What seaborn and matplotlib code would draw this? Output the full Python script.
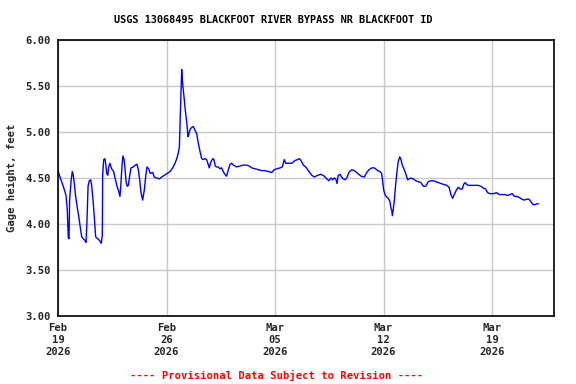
import matplotlib
matplotlib.use("Agg")
import matplotlib.pyplot as plt
import matplotlib.dates as mdates
import matplotlib.ticker as mticker
import numpy as np
import pandas as pd
import seaborn as sns

title = "USGS 13068495 BLACKFOOT RIVER BYPASS NR BLACKFOOT ID"
ylabel = "Gage height, feet"
note = "---- Provisional Data Subject to Revision ----"
start_date = "2026-02-19"
tick_dates = ["2026-02-19", "2026-02-26", "2026-03-05", "2026-03-12", "2026-03-19"]
y_ticks = [3.0, 3.5, 4.0, 4.5, 5.0, 5.5, 6.0]

# days since Feb 19 2026 00:00
days = [0.02, 0.13, 0.34, 0.52, 0.60, 0.66, 0.71, 0.75, 0.84, 0.92, 0.99, 1.05, 1.14, 1.25,
        1.35, 1.44, 1.53, 1.63, 1.74, 1.81, 1.87, 1.94, 2.02, 2.11, 2.17, 2.26, 2.34, 2.43,
        2.56, 2.69, 2.79, 2.86, 2.88, 2.95, 3.03, 3.08, 3.14, 3.21, 3.27, 3.35, 3.46, 3.59,
        3.68, 3.81, 3.89, 4.00, 4.06, 4.13, 4.19, 4.26, 4.32, 4.39, 4.47, 4.54, 4.63, 4.71,
        4.86, 4.99, 5.10, 5.18, 5.27, 5.35, 5.46, 5.57, 5.66, 5.74, 5.85, 5.95, 6.11, 6.21,
        6.37, 6.54, 6.69, 6.86, 7.05, 7.23, 7.40, 7.55, 7.66, 7.76, 7.83, 7.89, 7.94, 7.98,
        8.02, 8.08, 8.15, 8.21, 8.30, 8.39, 8.43, 8.52, 8.63, 8.73, 8.84, 8.95, 9.05, 9.16,
        9.27, 9.37, 9.50, 9.59, 9.70, 9.76, 9.85, 9.98, 10.06, 10.15, 10.24, 10.34, 10.45,
        10.56, 10.66, 10.77, 10.88, 10.99, 11.10, 11.21, 11.31, 11.53, 11.74, 11.95, 12.17,
        12.34, 12.50, 12.71, 12.92, 13.14, 13.35, 13.57, 13.79, 13.95, 14.11, 14.32, 14.47,
        14.60, 14.69, 14.86, 15.08, 15.29, 15.46, 15.57, 15.68, 15.83, 15.98, 16.15, 16.37,
        16.54, 16.75, 16.97, 17.18, 17.34, 17.48, 17.61, 17.72, 17.83, 17.92, 18.00, 18.08,
        18.19, 18.30, 18.41, 18.52, 18.63, 18.77, 18.95, 19.12, 19.34, 19.55, 19.76, 19.92,
        20.06, 20.24, 20.41, 20.63, 20.77, 20.88, 20.95, 21.01, 21.10, 21.21, 21.31, 21.42,
        21.48, 21.53, 21.57, 21.63, 21.70, 21.79, 21.87, 21.95, 22.05, 22.13, 22.21, 22.34,
        22.47, 22.56, 22.65, 22.77, 22.92, 23.08, 23.25, 23.42, 23.57, 23.72, 23.89, 24.06,
        24.21, 24.37, 24.54, 24.71, 24.88, 25.08, 25.23, 25.35, 25.46, 25.57, 25.70, 25.83,
        25.95, 26.08, 26.17, 26.26, 26.37, 26.47, 26.69, 26.90, 27.12, 27.29, 27.44, 27.59,
        27.72, 27.87, 28.08, 28.30, 28.45, 28.63, 28.84, 29.01, 29.16, 29.31, 29.44, 29.59,
        29.74, 29.92, 30.08, 30.24, 30.39, 30.52, 30.65, 30.77, 30.90, 30.99]

gage_ft = [4.57, 4.51, 4.41, 4.31, 4.15, 3.86, 3.84, 4.26, 4.46, 4.57, 4.53, 4.44, 4.30, 4.17,
           4.07, 3.96, 3.86, 3.84, 3.82, 3.80, 4.04, 4.41, 4.47, 4.48, 4.42, 4.26, 4.08, 3.86,
           3.84, 3.82, 3.79, 3.88, 4.53, 4.70, 4.71, 4.65, 4.55, 4.53, 4.62, 4.66, 4.60, 4.57,
           4.50, 4.41, 4.37, 4.30, 4.44, 4.64, 4.74, 4.70, 4.61, 4.46, 4.41, 4.42, 4.53, 4.61,
           4.62, 4.64, 4.65, 4.59, 4.48, 4.35, 4.26, 4.37, 4.52, 4.62, 4.60, 4.55, 4.56, 4.51,
           4.50, 4.49, 4.51, 4.53, 4.55, 4.57, 4.61, 4.66, 4.71, 4.77, 4.84, 5.17, 5.46, 5.68,
           5.57, 5.46, 5.35, 5.24, 5.11, 4.95, 4.97, 5.03, 5.05, 5.06, 5.02, 4.98, 4.88, 4.79,
           4.71, 4.70, 4.71, 4.70, 4.64, 4.61, 4.67, 4.71, 4.70, 4.63, 4.62, 4.62, 4.60,
           4.61, 4.57, 4.54, 4.52, 4.59, 4.65, 4.66, 4.64, 4.62, 4.63, 4.64, 4.64,
           4.63, 4.61, 4.60, 4.59, 4.58, 4.58, 4.57, 4.56, 4.59, 4.60, 4.61, 4.62,
           4.70, 4.66, 4.66, 4.66, 4.69, 4.70, 4.71, 4.69, 4.64, 4.62, 4.58, 4.53,
           4.51, 4.53, 4.54, 4.52, 4.49, 4.47, 4.50, 4.48, 4.50, 4.49, 4.44, 4.53,
           4.54, 4.51, 4.49, 4.48, 4.50, 4.56, 4.59, 4.58, 4.55, 4.52, 4.51, 4.56,
           4.59, 4.61, 4.61, 4.58, 4.57, 4.55, 4.46, 4.37, 4.32, 4.29, 4.28, 4.24,
           4.17, 4.15, 4.09, 4.16, 4.26, 4.44, 4.57, 4.68, 4.73, 4.70, 4.64, 4.59,
           4.53, 4.48, 4.49, 4.50, 4.49, 4.47, 4.46, 4.45, 4.41, 4.41, 4.46, 4.47,
           4.47, 4.46, 4.45, 4.44, 4.43, 4.42, 4.40, 4.32, 4.28, 4.32, 4.37, 4.40,
           4.38, 4.38, 4.43, 4.45, 4.43, 4.42, 4.42, 4.42, 4.42, 4.41, 4.39, 4.38,
           4.34, 4.33, 4.33, 4.34, 4.32, 4.32, 4.32, 4.31, 4.32, 4.33, 4.30, 4.30,
           4.29, 4.27, 4.26, 4.27, 4.27, 4.24, 4.21, 4.21, 4.22, 4.22]

t0 = pd.Timestamp(start_date)
df = pd.DataFrame({"time": t0 + pd.to_timedelta(days, unit="D"), "gage": gage_ft})

sns.set_theme(style="white")
mono = ["DejaVu Sans Mono"]
plt.rcParams["font.family"] = mono

fig = plt.figure(figsize=(5.76, 3.84), dpi=100)
ax = fig.add_axes([58 / 576, 1 - 316 / 384, (554 - 58) / 576, (316 - 40) / 384])

sns.lineplot(data=df, x="time", y="gage", ax=ax, color="#0000ff", linewidth=1.0)

ax.set_xlim(t0, t0 + pd.Timedelta(days=32))
ax.set_ylim(3.0, 6.0)
ax.set_yticks(y_ticks)
ax.yaxis.set_major_formatter(mticker.FormatStrFormatter("%.2f"))
ax.set_xticks(pd.to_datetime(tick_dates))
ax.xaxis.set_major_formatter(mdates.DateFormatter("%b\n%d\n%Y"))

ax.grid(True, color="#c8c8c8", linewidth=1.0)
ax.set_axisbelow(True)
for s in ax.spines.values():
    s.set_color("black")
    s.set_linewidth(1.2)

ax.tick_params(axis="both", length=0, labelsize=7.6, pad=5)
for lab in ax.get_xticklabels() + ax.get_yticklabels():
    lab.set_fontweight("bold")
for lab in ax.get_xticklabels():
    lab.set_linespacing(1.25)

ax.set_xlabel("")
ax.set_ylabel(ylabel, fontsize=7.6, fontweight="bold", labelpad=6)
fig.text(273 / 576, 1 - 20 / 384, title, ha="center", va="center", fontsize=7.4,
         fontweight="bold", color="black")
fig.text(277 / 576, 1 - 375 / 384, note, ha="center", va="center", fontsize=7.6,
         fontweight="bold", color="#ff0000")

fig.savefig("out.png", dpi=100)
